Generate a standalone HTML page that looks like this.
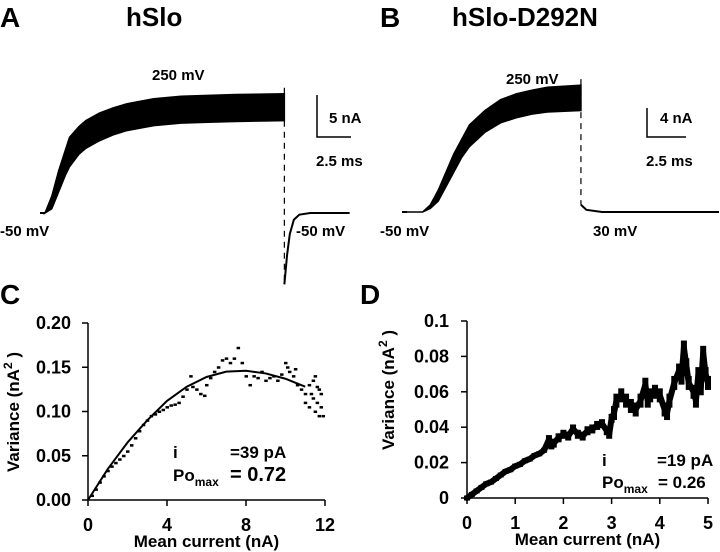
<!DOCTYPE html>
<html><head><meta charset="utf-8"><style>
body{margin:0;background:#fff;}
svg{display:block;font-family:"Liberation Sans",sans-serif;font-weight:bold;}
</style></head><body>
<svg id="fig" width="720" height="552" viewBox="0 0 720 552">
<g fill="#000">
<text x="0" y="27" font-size="28">A</text>
<text x="126" y="26" font-size="26">hSlo</text>
<text x="152" y="80" font-size="15">250 mV</text>
<text x="0" y="236" font-size="15">-50 mV</text>
<text x="296" y="236" font-size="15">-50 mV</text>
<text x="329" y="123" font-size="15">5 nA</text>
<text x="316" y="166" font-size="15">2.5 ms</text>
<text x="380" y="27" font-size="28">B</text>
<text x="452" y="26" font-size="26">hSlo-D292N</text>
<text x="506" y="84" font-size="15">250 mV</text>
<text x="380" y="236" font-size="15">-50 mV</text>
<text x="593" y="236" font-size="15">30 mV</text>
<text x="660" y="123" font-size="15">4 nA</text>
<text x="646" y="166" font-size="15">2.5 ms</text>
<text x="0" y="304" font-size="28">C</text>
<text x="360" y="304" font-size="28">D</text>
</g>
<g stroke="#000" stroke-width="1.5" fill="none">
<path d="M317 95V137H351"/>
<path d="M647 108V137H686"/>
</g>
<g id="traces"></g>
<g id="chartC"></g>
<g id="chartD"></g>
</svg>
<script>
// ---- Traces data (time ms, current nA) ----
const aT=[0,0.5,1,1.5,1.8,2.5,3,4,5,6,7,8,10,12,14,17.6];
const aTop=[0,2,5,7.5,9,10.3,11,11.9,12.5,13,13.3,13.6,13.9,14,14.1,14.2];
const aBot=[0,0.5,2.5,4.5,5.5,7,7.7,8.6,9.3,9.8,10.1,10.4,10.7,10.8,10.9,11];
const aTailT=[17.6,17.8,18.0,18.3,18.7,19.5,22.4];
const aTailI=[-8.5,-5,-2.5,-0.8,-0.2,0,0];
const bT=[0,1,1.5,2,2.5,3,3.5,4,5,6,7,8,9,11.15];
const bTop=[0,0,1,3,5.5,8,10,12,14,15.5,16.3,16.8,17.2,17.5];
const bBot=[0,0,0.5,1.5,3.5,5.5,7.5,9,11,12.3,13,13.5,13.8,14];
const bTailT=[11.15,11.5,12.5,20];
const bTailI=[1,0.3,0,0];
// ---- Panel C data ----
const cMean=[0.2,0.4,0.6,0.8,1.0,1.2,1.4,1.6,1.8,2.0,2.2,2.4,2.6,2.8,3.0,3.2,3.4,3.6,3.8,4.0,4.2,4.4,4.6,4.8,5.0,5.2,5.3,5.5,5.7,5.9,6.0,6.2,6.4,6.6,6.8,7.0,7.2,7.4,7.6,7.8,8.0,8.2,8.4,8.6,8.8,9.0,9.2,9.4,9.6,9.8,10.0,10.1,10.2,10.4,10.5,10.6,10.8,11.0,11.0,11.2,11.2,11.4,11.4,11.5,11.6,11.6,11.7,11.7,11.8,11.8,11.9,11.5,11.3];
const cVar=[0.005,0.012,0.02,0.027,0.033,0.038,0.042,0.046,0.05,0.055,0.062,0.07,0.078,0.085,0.09,0.095,0.097,0.1,0.102,0.105,0.107,0.108,0.11,0.117,0.125,0.14,0.128,0.125,0.12,0.118,0.13,0.138,0.145,0.15,0.158,0.16,0.155,0.16,0.172,0.155,0.14,0.13,0.14,0.138,0.145,0.135,0.138,0.14,0.135,0.142,0.155,0.15,0.145,0.14,0.148,0.13,0.125,0.12,0.11,0.13,0.105,0.135,0.115,0.1,0.128,0.11,0.095,0.125,0.12,0.105,0.095,0.14,0.12];
const cFitX=[0,1,2,3,4,5,6,7,8,9,10,11];
const cFitY=[0,0.035,0.065,0.09,0.112,0.128,0.139,0.145,0.146,0.143,0.137,0.128];
const cXTicks=[0,4,8,12];
const cYTicks=[0,0.05,0.10,0.15,0.20];
const cYLabels=["0.00","0.05","0.10","0.15","0.20"];
// ---- Panel D data ----
const dMean=[0,0.1,0.2,0.3,0.4,0.5,0.6,0.7,0.8,0.9,1.0,1.1,1.2,1.3,1.4,1.5,1.6,1.7,1.75,1.8,1.9,2.0,2.1,2.2,2.3,2.4,2.5,2.6,2.7,2.8,2.9,2.95,3.0,3.05,3.1,3.2,3.3,3.4,3.5,3.6,3.7,3.75,3.8,3.9,4.0,4.1,4.15,4.2,4.3,4.4,4.45,4.5,4.55,4.6,4.7,4.75,4.8,4.85,4.9,4.95,5.0];
const dVar=[0,0.002,0.004,0.006,0.008,0.009,0.011,0.013,0.015,0.016,0.018,0.019,0.021,0.022,0.024,0.025,0.027,0.033,0.030,0.031,0.034,0.036,0.035,0.039,0.036,0.035,0.038,0.039,0.041,0.042,0.038,0.036,0.045,0.048,0.055,0.058,0.055,0.052,0.05,0.055,0.064,0.055,0.058,0.06,0.058,0.05,0.048,0.055,0.065,0.072,0.068,0.085,0.075,0.065,0.06,0.055,0.07,0.062,0.082,0.07,0.065];
const dXTicks=[0,1,2,3,4,5];
const dYTicks=[0,0.02,0.04,0.06,0.08,0.1];
const dYLabels=["0","0.02","0.04","0.06","0.08","0.1"];

const NS="http://www.w3.org/2000/svg";
function mk(parent,tag,attrs){const e=document.createElementNS(NS,tag);for(const k in attrs)e.setAttribute(k,attrs[k]);parent.appendChild(e);return e;}

const tr=document.getElementById('traces');
function trace(x0,y0,pxms,pxna,T,top,bot,tT,tI,endName){
  const X=t=>x0+t*pxms, Y=i=>y0-i*pxna;
  let d="M"+X(T[0])+" "+Y(top[0]);
  for(let k=1;k<T.length;k++)d+="L"+X(T[k])+" "+Y(top[k]);
  for(let k=T.length-1;k>=0;k--)d+="L"+X(T[k])+" "+Y(bot[k]);
  d+="Z";
  const p=mk(tr,'path',{d:d,fill:'#000',stroke:'#000','stroke-width':1.5});
  
  
  const xe=X(T[T.length-1]);
  const dl=mk(tr,'line',{x1:xe,x2:xe,y1:Y(top[top.length-1])-6,y2:Math.max(Y(tI[0]),y0-8),stroke:'#000','stroke-width':1.2,'stroke-dasharray':'6 5'});
  
  
  const pre=mk(tr,'line',{x1:X(T[0])-5,x2:X(T[0]),y1:y0,y2:y0,stroke:'#000','stroke-width':2});
  
  
  let td="M"+X(tT[0])+" "+Y(tI[0]);
  for(let k=1;k<tT.length;k++)td+="L"+X(tT[k])+" "+Y(tI[k]);
  const tp=mk(tr,'path',{d:td,fill:'none',stroke:'#000','stroke-width':2});
  
  
}
trace(45,213,13.6,8.4,aT,aTop,aBot,aTailT,aTailI,'a');
trace(407,212,15.6,7.25,bT,bTop,bBot,bTailT,bTailI,'b');

function axes(g,x0,x1,y0,y1,xmax,ymax,xt,yt,yl,tickLabelRight,ylabX,ylabY){
  const sx=v=>x0+(x1-x0)*v/xmax, sy=v=>y0-(y0-y1)*v/ymax;
  const ax=mk(g,'path',{d:`M${x0} ${y1}V${y0}H${x1}`,stroke:'#000','stroke-width':1.5,fill:'none'});
  
  
  xt.forEach(v=>{
    const l=mk(g,'line',{x1:sx(v),x2:sx(v),y1:y0,y2:y0+6,stroke:'#000','stroke-width':1.5});
    
    
    const t=mk(g,'text',{x:sx(v),y:y0+31,'text-anchor':'middle','font-size':18});
    t.textContent=v;
    
    
  });
  yt.forEach((v,k)=>{
    const l=mk(g,'line',{x1:x0-6,x2:x0,y1:sy(v),y2:sy(v),stroke:'#000','stroke-width':1.5});
    
    
    const t=mk(g,'text',{x:tickLabelRight,y:sy(v)+6,'text-anchor':'end','font-size':18});
    t.textContent=yl[k];
    
    
  });
  const xtl=mk(g,'text',{x:(x0+x1)/2,y:y0+47,'text-anchor':'middle','font-size':17});
  xtl.textContent='Mean current (nA)';
  
  
  const ytl=mk(g,'text',{x:ylabX,y:ylabY,'text-anchor':'middle','font-size':17,transform:`rotate(-90 ${ylabX} ${ylabY})`});
  ytl.innerHTML='Variance (nA<tspan dy="-7" font-size="12">2</tspan><tspan dy="7"> )</tspan>';
  
  
  return [sx,sy];
}
// Panel C
const gC=document.getElementById('chartC');
const [cx,cy]=axes(gC,88,325,500,323,12,0.2,cXTicks,cYTicks,cYLabels,71,19,412);
cMean.forEach((m,k)=>{
  const r=mk(gC,'rect',{x:cx(m)-1.5,y:cy(cVar[k])-1,width:3.5,height:2.5,fill:'#000'});
  
  
});
let fd='';cFitX.forEach((x,k)=>{fd+=(k?'L':'M')+cx(x)+' '+cy(cFitY[k]);});
const fit=mk(gC,'path',{d:fd,fill:'none',stroke:'#000','stroke-width':2});


[['i',173,458,17],['=39 pA',230,458,17],['= 0.72',230,481,20]].forEach(a=>{
  const t=mk(gC,'text',{x:a[1],y:a[2],'font-size':a[3]});t.textContent=a[0];
  
  
});
const cpo=mk(gC,'text',{x:173,y:481,'font-size':17});
cpo.innerHTML='Po<tspan dy="5" font-size="12">max</tspan>';


// Panel D
const gD=document.getElementById('chartD');
const [dx,dy]=axes(gD,467,708,498,321,5,0.1,dXTicks,dYTicks,dYLabels,449,394,390);
let dd='';dMean.forEach((m,k)=>{dd+=(k?'L':'M')+dx(m)+' '+dy(dVar[k]);});
const band=mk(gD,'path',{d:dd,fill:'none',stroke:'#000','stroke-width':6,'stroke-linejoin':'round','stroke-linecap':'round'});


dMean.forEach((m,k)=>{
  const h=m>3?14:(m>1.6?9:5);
  const r=mk(gD,'rect',{x:dx(m)-3,y:dy(dVar[k])-h/2,width:6,height:h,fill:'#000'});
  
  
});
[['i',602,466],['=19 pA',657,466],['= 0.26',658,488]].forEach(a=>{
  const t=mk(gD,'text',{x:a[1],y:a[2],'font-size':17});t.textContent=a[0];
  
  
});
const dpo=mk(gD,'text',{x:602,y:488,'font-size':17});
dpo.innerHTML='Po<tspan dy="5" font-size="12">max</tspan>';


</script>
</body></html>
